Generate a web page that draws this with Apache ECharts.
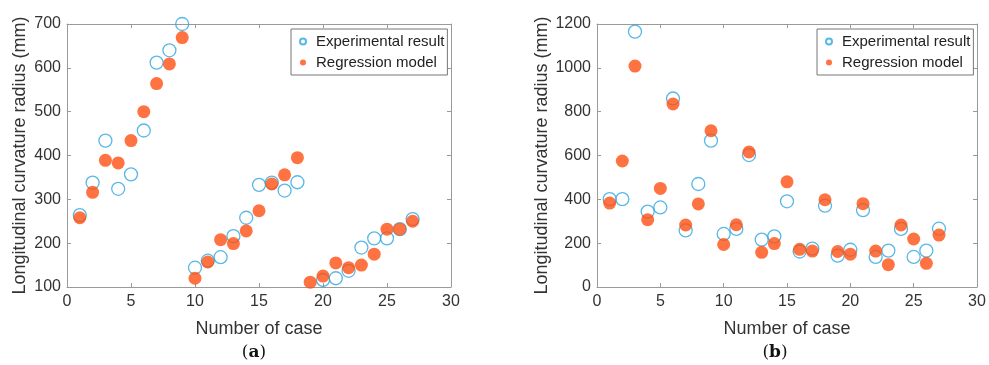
<!DOCTYPE html>
<html><head><meta charset="utf-8">
<script src="https://cdn.jsdelivr.net/npm/echarts@6/dist/echarts.min.js"></script>
<style>html,body{margin:0;padding:0;background:#fff}#c{width:989px;height:365px}</style>
</head><body><div id="c"></div>
<script>
const cases = [1,2,3,4,5,6,7,8,9,10,11,12,13,14,15,16,17,18,19,20,21,22,23,24,25,26,27];
const expA = [264,338,434,324,357,457,612,640,700,144,160,168,216,258,333,338,320,339,99,116,120,137,190,211,211,232,255];
const regA = [258,316,389,383,434,500,564,609,669,120,157,208,199,228,274,335,356,395,111,125,155,144,150,175,232,232,250];
const expB = [401,401,1165,344,363,860,258,470,668,242,265,602,216,231,391,162,175,371,143,170,351,137,166,265,137,166,266];
const regB = [383,575,1008,307,450,835,283,379,713,194,284,616,158,198,480,172,164,398,162,150,380,164,102,283,219,108,237];
const xTicksMax = 30;
const yA = {min:100, max:700, interval:100};
const yB = {min:0, max:1200, interval:200};
const xName = 'Number of case';
const yName = 'Longitudinal curvature radius (mm)';
const names = ['Experimental result','Regression model'];

const BLUE = '#2EA6DF', ORANGE = '#FF4F12', AX = '#9a9a9a', TXT = '#333333';
const FONT = 'Liberation Sans';
const chart = echarts.init(document.getElementById('c'));
const pair = (xs, ys) => xs.map((x,i)=>[x, ys[i]]);

function xAx(gi, pos, show){
  return {gridIndex:gi, type:'value', position:pos, min:0, max:xTicksMax, interval:5,
    name: show? xName:'', nameLocation:'middle', nameGap:33,
    nameTextStyle:{fontFamily:FONT, fontSize:18, color:TXT},
    axisLine:{onZero:false, lineStyle:{color:AX, width:1}},
    axisTick:{inside:true, length:4, lineStyle:{color:AX}},
    axisLabel:{show:show, fontFamily:FONT, fontSize:16, color:TXT, margin:7},
    splitLine:{show:false}};
}
function yAx(gi, pos, show, r, gap){
  return {gridIndex:gi, type:'value', position:pos, min:r.min, max:r.max, interval:r.interval,
    name: show? yName:'', nameLocation:'middle', nameGap:gap, nameRotate:90,
    nameTextStyle:{fontFamily:FONT, fontSize:18, color:TXT},
    axisLine:{onZero:false, lineStyle:{color:AX, width:1}},
    axisTick:{inside:true, length:4, lineStyle:{color:AX}},
    axisLabel:{show:show, fontFamily:FONT, fontSize:16, color:TXT, margin:6, formatter:(v)=>String(v)},
    splitLine:{show:false}};
}
function openS(xi, yi, data){
  return {name:names[0], type:'scatter', xAxisIndex:xi, yAxisIndex:yi, data:data, symbol:'circle', symbolSize:13,
    itemStyle:{color:'rgba(255,255,255,0)', borderColor:BLUE, borderWidth:1.3}, z:2};
}
function fillS(xi, yi, data){
  return {name:names[1], type:'scatter', xAxisIndex:xi, yAxisIndex:yi, data:data, symbol:'circle', symbolSize:13,
    itemStyle:{color:ORANGE}, z:3};
}
function legend(left){
  return {left:left, top:29, orient:'vertical', data:names, itemWidth:6, itemHeight:6, itemGap:6,
    padding:[5,3,5,8], borderColor:'#777', borderWidth:1, backgroundColor:'#fff', selectedMode:false,
    textStyle:{fontFamily:FONT, fontSize:15, color:'#222', padding:[0,0,0,5]}};
}
const lab = (x, ch) => ({type:'text', x:x, y:353, style:{text:'({b|'+ch+'})', align:'center', verticalAlign:'middle',
  fontFamily:'DejaVu Serif', fontSize:17, fill:'#111',
  rich:{b:{fontWeight:'bold', fontFamily:'DejaVu Serif', fontSize:17, fill:'#111'}}}});
chart.setOption({
  animation:false,
  grid:[{left:67, top:24, width:384, height:263},{left:597, top:24, width:380, height:263}],
  xAxis:[xAx(0,'bottom',true), xAx(0,'top',false), xAx(1,'bottom',true), xAx(1,'top',false)],
  yAxis:[yAx(0,'left',true,yA,38), yAx(0,'right',false,yA,0), yAx(1,'left',true,yB,41), yAx(1,'right',false,yB,0)],
  legend:[legend(291), legend(817)],
  series:[openS(0,0,pair(cases,expA)), fillS(0,0,pair(cases,regA)), openS(2,2,pair(cases,expB)), fillS(2,2,pair(cases,regB))],
  graphic:[lab(254,'a'), lab(775,'b')]
});
</script></body></html>
